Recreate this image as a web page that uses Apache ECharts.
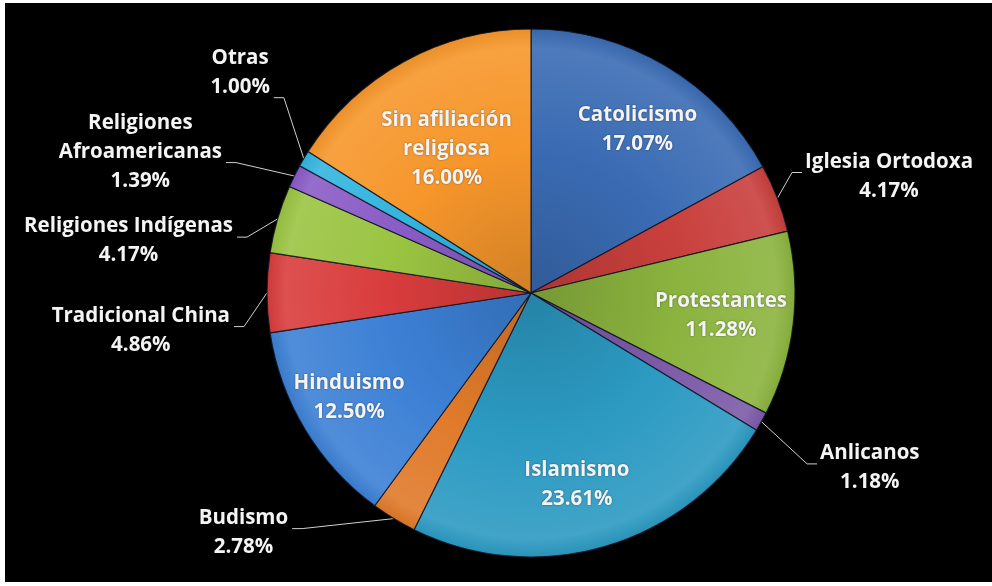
<!DOCTYPE html>
<html>
<head>
<meta charset="utf-8">
<script src="https://cdn.jsdelivr.net/npm/echarts@6/dist/echarts.min.js"></script>
<style>
html,body{margin:0;padding:0;background:#ffffff;}
#chart{position:absolute;left:5px;top:3px;width:987px;height:579px;background:#000000;}
</style>
</head>
<body>
<div id="chart"></div>
<script>
// ---- data ----
const categories = ['Catolicismo','Iglesia Ortodoxa','Protestantes','Anlicanos','Islamismo','Budismo','Hinduismo','Tradicional China','Religiones Indígenas','Religiones Afroamericanas','Otras','Sin afiliación religiosa'];
const values = [17.07, 4.17, 11.28, 1.18, 23.61, 2.78, 12.50, 4.86, 4.17, 1.39, 1.00, 16.00];
const labelTexts = ['Catolicismo','Iglesia Ortodoxa','Protestantes','Anlicanos','Islamismo','Budismo','Hinduismo','Tradicional China','Religiones Indígenas','Religiones\nAfroamericanas','Otras','Sin afiliación\nreligiosa'];

// ---- styles ----
const colors = ['#3a6bb3','#c83f3c','#8bb33e','#7c5aa8','#2c9ac2','#e07a2a','#3c80d5','#d93c3c','#9bc442','#8a5cc6','#34b4df','#f6962b'];
const inside = [true,false,true,false,true,false,true,false,false,false,false,true];
const labelShift = [[37.5,-47.5],[3.3,-18.1],[55.9,7.1],[34.9,41.3],[8.2,62.2],[-85.5,5.5],[-66.4,34.4],[-12,37.8],[-20,25],[-48.4,-19.5],[-10.3,-80.8],[-19.4,-25.3]];
const attachLine = [0,0,0,0,0,0,0,0,0,1,1,0];
const LH = 29;
const CX = 526, CY = 290, R = 264;

function shade(hex, amt) {
  const n = parseInt(hex.slice(1), 16);
  let r = (n >> 16) & 255, g = (n >> 8) & 255, b = n & 255;
  const f = c => Math.max(0, Math.min(255, Math.round(amt >= 0 ? c + (255 - c) * amt : c * (1 + amt))));
  return 'rgb(' + f(r) + ',' + f(g) + ',' + f(b) + ')';
}
function grad(hex) {
  return {
    type: 'radial', x: CX, y: CY, r: R, global: true,
    colorStops: [
      {offset: 0, color: shade(hex, -0.15)},
      {offset: 0.55, color: hex},
      {offset: 0.93, color: shade(hex, 0.1)},
      {offset: 1, color: shade(hex, -0.05)}
    ]
  };
}

const seriesData = categories.map((name, i) => ({
  name: name,
  value: values[i],
  itemStyle: {color: grad(colors[i])},
  label: {position: inside[i] ? 'inside' : 'outside'}
}));

const chart = echarts.init(document.getElementById('chart'));
chart.setOption({
  backgroundColor: '#000000',
  animation: false,
  series: [{
    type: 'pie',
    center: [CX, CY],
    radius: R,
    startAngle: 90,
    clockwise: true,
    avoidLabelOverlap: false,
    data: seriesData,
    itemStyle: {borderColor: 'rgba(15,20,35,0.85)', borderWidth: 1.2},
    label: {
      show: true,
      color: '#ffffff',
      distanceToLabelLine: 5,
      formatter: function (p) {
        const t = labelTexts[p.dataIndex].split('\n').map(s => '{t|' + s + '}').join('\n');
        return t + '\n{t|' + values[p.dataIndex].toFixed(2) + '%}';
      },
      rich: {
        t: {
          align: 'center',
          color: '#f4f4f4',
          fontFamily: 'Open Sans',
          fontWeight: 'bold',
          fontSize: 20.5,
          lineHeight: LH,
          textShadowColor: 'rgba(0,0,0,0.45)',
          textShadowBlur: 2
        }
      }
    },
    labelLine: {
      show: true,
      length: 10,
      length2: 10,
      lineStyle: {color: '#d0d0d0', width: 1}
    },
    labelLayout: function (p) {
      const i = p.dataIndex;
      const dx = labelShift[i][0], dy = labelShift[i][1];
      const res = {dx: dx, dy: dy};
      if (!inside[i] && p.labelLinePoints) {
        const pts = p.labelLinePoints;
        const isRight = pts[2][0] > pts[0][0];
        const rc = p.labelRect;
        const nx = rc.x + dx, ny = rc.y + dy;
        const ay = ny + attachLine[i] * LH + 21;
        const ax = isRight ? nx - 3 : nx + rc.width + 4;
        const bx = isRight ? ax - 10 : ax + 10;
        res.labelLinePoints = [pts[0], [bx, ay], [ax, ay]];
      }
      return res;
    }
  }]
});
</script>
</body>
</html>
